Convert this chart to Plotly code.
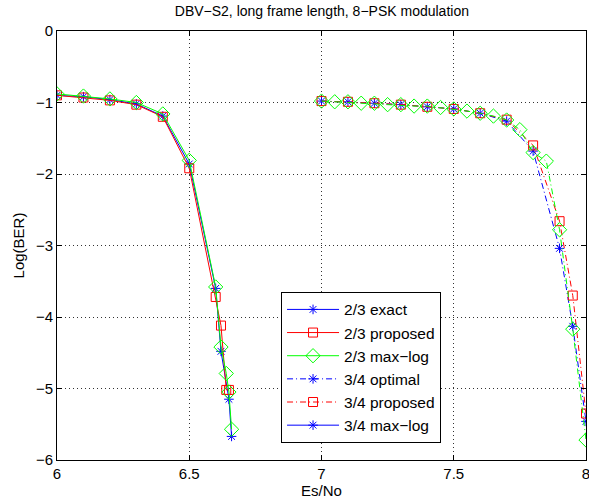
import plotly.graph_objects as go

# 2/3 code rate curves
x23_exact = [6.0, 6.1, 6.2, 6.3, 6.4, 6.5, 6.6, 6.62, 6.65, 6.66]
y23_exact = [-0.9, -0.92, -0.96, -1.02, -1.19, -1.86, -3.6, -4.48, -5.15, -5.67]
x23_prop = [6.0, 6.1, 6.2, 6.3, 6.4, 6.5, 6.6, 6.62, 6.64, 6.65]
y23_prop = [-0.9, -0.93, -0.97, -1.03, -1.2, -1.92, -3.72, -4.12, -5.02, -5.02]
x23_maxlog = [6.0, 6.1, 6.2, 6.3, 6.4, 6.5, 6.6, 6.62, 6.64, 6.65, 6.66]
y23_maxlog = [-0.88, -0.91, -0.95, -1.0, -1.16, -1.81, -3.58, -4.42, -4.79, -5.05, -5.57]

# 3/4 code rate curves
x34_opt = [7.0, 7.1, 7.2, 7.3, 7.4, 7.5, 7.6, 7.7, 7.8, 7.9, 7.95, 8.0]
y34_opt = [-0.98, -0.99, -1.01, -1.03, -1.06, -1.09, -1.15, -1.26, -1.68, -3.04, -4.13, -5.46]
x34_prop = [7.0, 7.1, 7.2, 7.3, 7.4, 7.5, 7.6, 7.7, 7.8, 7.9, 7.95, 8.0]
y34_prop = [-0.98, -0.99, -1.01, -1.03, -1.06, -1.09, -1.15, -1.24, -1.6, -2.66, -3.70, -5.35]
x34_maxlog = [7.0, 7.05, 7.1, 7.15, 7.2, 7.25, 7.3, 7.35, 7.4, 7.45, 7.5,
              7.55, 7.6, 7.65, 7.7, 7.75, 7.8, 7.85, 7.9, 7.95, 8.0]
y34_maxlog = [-0.98, -0.99, -0.99, -1.01, -1.01, -1.03, -1.03, -1.05, -1.05, -1.07, -1.09,
              -1.12, -1.15, -1.19, -1.245, -1.38, -1.70, -1.82, -2.78, -4.17, -5.72]

BLUE, RED, GREEN = "#0000FF", "#FF0000", "#00FF00"
DASHDOT = "6px,3px,1px,3px"

fig = go.Figure()

def add(x, y, name, color, symbol, dash="solid", size=9, showlegend=True):
    fig.add_trace(go.Scatter(
        x=x, y=y, name=name, mode="lines+markers", showlegend=showlegend,
        line=dict(color=color, width=1, dash=dash),
        marker=dict(symbol=symbol, size=size, color=color,
                    line=dict(color=color, width=1)),
        cliponaxis=True,
    ))

add(x23_exact, y23_exact, "2/3 exact", BLUE, "asterisk-open", size=8)
add(x23_prop, y23_prop, "2/3 proposed", RED, "square-open", size=9)
add(x23_maxlog, y23_maxlog, "2/3 max\u2212log", GREEN, "diamond-open", size=11)
add(x34_opt, y34_opt, "3/4 optimal", BLUE, "asterisk-open", dash=DASHDOT, size=8)
add(x34_prop, y34_prop, "3/4 proposed", RED, "square-open", dash=DASHDOT, size=9)
add(x34_maxlog, y34_maxlog, "3/4 max\u2212log", GREEN, "diamond-open", dash=DASHDOT, size=11,
    showlegend=False)
# legend entry as it appears in the original figure
add([None], [None], "3/4 max\u2212log", BLUE, "asterisk-open", size=8)

axis_common = dict(
    showline=True, linecolor="black", linewidth=1, mirror="ticks",
    ticks="inside", ticklen=5, tickcolor="black", tickwidth=1,
    showgrid=True, gridcolor="#333333", gridwidth=1, griddash="1px,3px",
    zeroline=False, tickfont=dict(size=15, color="black"),
    automargin=False, ticklabeloverflow="allow",
)

fig.update_layout(
    width=589, height=504,
    margin=dict(l=57, r=3, t=31, b=44),
    paper_bgcolor="white", plot_bgcolor="white",
    font=dict(family="Liberation Sans, Arial, sans-serif", color="black", size=15),
    title=dict(text="DBV\u2212S2, long frame length, 8\u2212PSK modulation",
               x=0.5465, xanchor="center", y=0.978, yanchor="middle",
               font=dict(size=14)),
    xaxis=dict(range=[6, 8], dtick=0.5, tick0=6,
               title=dict(text="Es/No", standoff=1, font=dict(size=15)),
               **axis_common),
    yaxis=dict(range=[-6, 0], dtick=1, tick0=0,
               title=dict(text="Log(BER)", standoff=7, font=dict(size=15)),
               **axis_common),
    legend=dict(x=0.4235, y=0.392, xanchor="left", yanchor="top",
                bgcolor="white", bordercolor="black", borderwidth=1,
                font=dict(size=15.5), tracegroupgap=0, itemwidth=52),
    showlegend=True,
)

fig.write_html("out.html", config={"displayModeBar": False},
               post_script="document.body.style.margin='0';")
